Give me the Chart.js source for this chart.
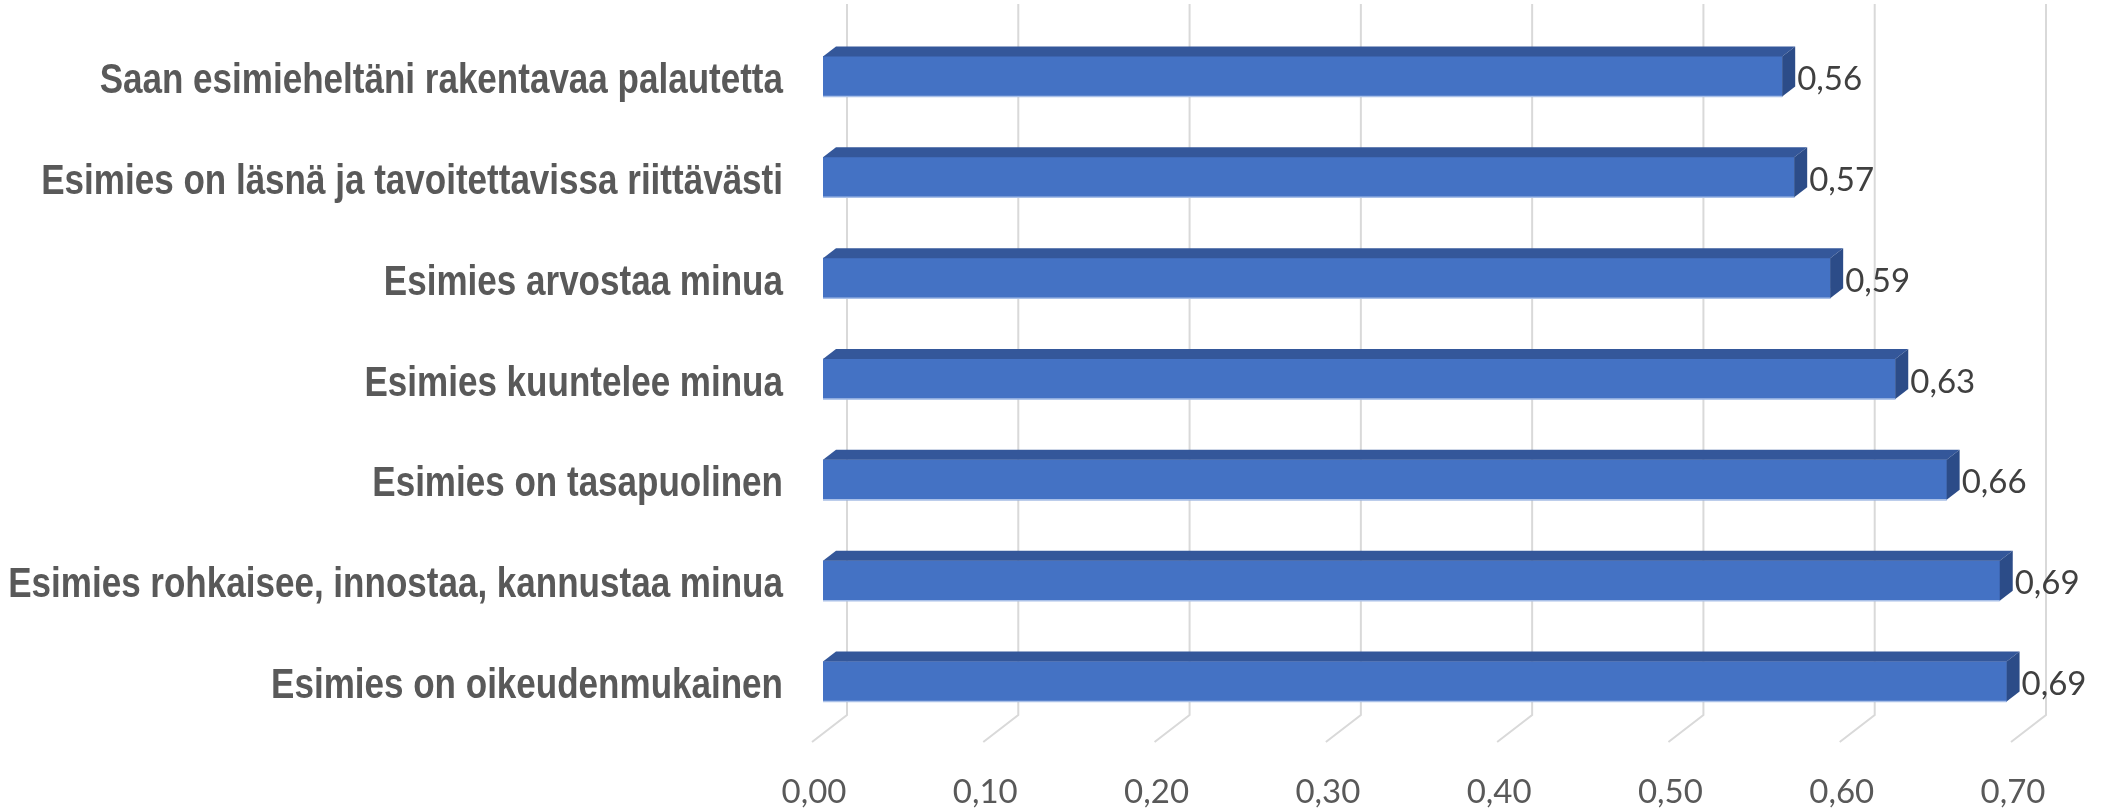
<!DOCTYPE html>
<html>
<head>
<meta charset="utf-8">
<script src="https://cdn.jsdelivr.net/npm/chart.js@4/dist/chart.umd.min.js"></script>
<style>
  html, body { margin: 0; padding: 0; background: #ffffff; }
  #wrap { width: 2107px; height: 809px; position: relative; }
  canvas { display: block; }
</style>
</head>
<body>
<div id="wrap"><canvas id="c" width="2107" height="809"></canvas></div>
<script>
const categories = [
  "Saan esimieheltäni rakentavaa palautetta",
  "Esimies on läsnä ja tavoitettavissa riittävästi",
  "Esimies arvostaa minua",
  "Esimies kuuntelee minua",
  "Esimies on tasapuolinen",
  "Esimies rohkaisee, innostaa, kannustaa minua",
  "Esimies on oikeudenmukainen"
];
const values = [0.56, 0.567, 0.588, 0.626, 0.656, 0.687, 0.691];
const tickValues = [0, 0.1, 0.2, 0.3, 0.4, 0.5, 0.6, 0.7];

const fmt = v => Number(v).toFixed(2).replace('.', ',');
const DX = 13, DY = 10;           // bar depth
const BACK_DX = 24;               // back wall offset
const FLOOR_Y = 715, FLOOR_DX = -35, FLOOR_DY = 27;

const depthPlugin = {
  id: 'depth3d',
  beforeDatasetsDraw(chart) {
    const ctx = chart.ctx;
    const xs = chart.scales.x;
    ctx.save();
    ctx.strokeStyle = '#d9d9d9';
    ctx.lineWidth = 2;
    tickValues.forEach(v => {
      const xb = xs.getPixelForValue(v) + BACK_DX;
      ctx.beginPath();
      ctx.moveTo(xb, 4);
      ctx.lineTo(xb, FLOOR_Y);
      ctx.lineTo(xb + FLOOR_DX, FLOOR_Y + FLOOR_DY);
      ctx.stroke();
    });
    ctx.restore();
  },
  afterDatasetsDraw(chart) {
    const ctx = chart.ctx;
    const meta = chart.getDatasetMeta(0);
    const ys = chart.scales.y;
    ctx.save();
    meta.data.forEach((bar, i) => {
      const p = bar.getProps(['x', 'y', 'base', 'height'], true);
      const top = p.y - p.height / 2, bottom = p.y + p.height / 2;
      const l = p.base, r = p.x;
      // top face
      ctx.fillStyle = '#34579a';
      ctx.beginPath();
      ctx.moveTo(l, top);
      ctx.lineTo(l + DX, top - DY);
      ctx.lineTo(r + DX, top - DY);
      ctx.lineTo(r, top);
      ctx.closePath();
      ctx.fill();
      // side face
      ctx.fillStyle = '#2c4c88';
      ctx.beginPath();
      ctx.moveTo(r, top);
      ctx.lineTo(r + DX, top - DY);
      ctx.lineTo(r + DX, bottom - DY);
      ctx.lineTo(r, bottom);
      ctx.closePath();
      ctx.fill();
      // light bottom edge
      ctx.strokeStyle = '#a9c0e8';
      ctx.lineWidth = 1.5;
      ctx.beginPath();
      ctx.moveTo(l, bottom);
      ctx.lineTo(r, bottom);
      ctx.stroke();
      // data label
      ctx.fillStyle = '#404040';
      ctx.font = '33px Lato, "Noto Sans", sans-serif';
      ctx.textAlign = 'left';
      ctx.textBaseline = 'middle';
      ctx.fillText(fmt(values[i]), r + DX + 2, p.y + 3);
    });
    // category labels (narrow bold, drawn condensed)
    ctx.fillStyle = '#595959';
    ctx.font = 'bold 42px "Liberation Sans", Arial, sans-serif';
    ctx.textAlign = 'right';
    ctx.textBaseline = 'middle';
    categories.forEach((lab, i) => {
      const y = ys.getPixelForTick(i) + 5;
      ctx.save();
      ctx.translate(ys.right - 40, y);
      ctx.scale(0.834, 1);
      ctx.fillText(lab, 0, 0);
      ctx.restore();
    });
    ctx.restore();
  }
};

new Chart(document.getElementById('c'), {
  type: 'bar',
  data: {
    labels: categories,
    datasets: [{
      data: values,
      backgroundColor: '#4472c4',
      borderWidth: 0,
      barThickness: 40
    }]
  },
  options: {
    indexAxis: 'y',
    responsive: false,
    animation: false,
    layout: { padding: { left: 0, right: 85, top: 26, bottom: 0 } },
    plugins: { legend: { display: false }, tooltip: { enabled: false } },
    scales: {
      x: {
        min: 0, max: 0.7,
        afterBuildTicks(scale) { scale.ticks = tickValues.map(v => ({ value: v })); },
        afterFit(scale) { scale.height = 77; },
        grid: { display: false, drawTicks: false },
        border: { display: false },
        ticks: {
          callback: v => fmt(v),
          color: '#595959',
          font: { family: 'Lato, "Noto Sans", sans-serif', size: 33 },
          padding: 41,
          labelOffset: -9,
          maxRotation: 0,
          autoSkip: false
        }
      },
      y: {
        afterFit(scale) { scale.width = 823; },
        grid: { display: false, drawTicks: false },
        border: { display: false },
        ticks: { display: false }
      }
    }
  },
  plugins: [depthPlugin]
});
</script>
</body>
</html>
